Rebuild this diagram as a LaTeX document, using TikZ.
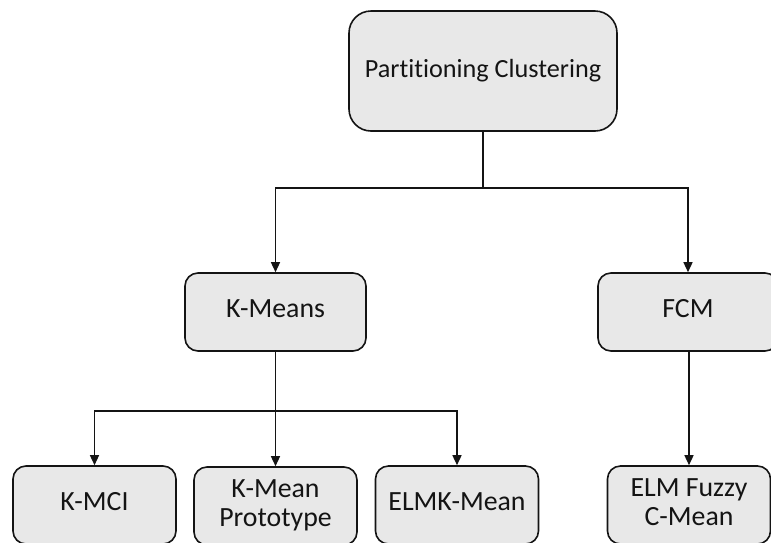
\documentclass[tikz,border=0pt]{standalone}
\usepackage{fontspec}
\setmainfont{Carlito}[Ligatures=NoCommon]
\usetikzlibrary{arrows.meta}
\definecolor{boxfill}{RGB}{232,232,232}
\definecolor{ink}{RGB}{20,20,20}
% box labels, one or two centred lines
\newcommand\lbl[1]{{\fontsize{27.8}{29}\selectfont\begin{tabular}{@{}c@{}}#1\end{tabular}}}
\begin{document}
\begin{tikzpicture}[x=1pt,y=-1pt,
  box/.style={draw=ink,line width=1.6pt,fill=boxfill,rounded corners=13pt,
    minimum width=163pt,minimum height=78pt,inner sep=0pt,text=ink,align=center},
  link/.style={draw=ink,line width=1.4pt},
  arr/.style={link,-{Triangle[length=10pt,width=9pt]}}]
\useasboundingbox (0,0) rectangle (771,542);
\clip (0,0) rectangle (771,542);
\fill[white] (0,0) rectangle (771,542);

% boxes
\node[box,minimum width=268pt,minimum height=120pt,rounded corners=22pt,
  font=\fontsize{26.2}{28}\selectfont] (top) at (483,71) {Partitioning Clustering};
\node[box,minimum width=181pt] (km) at (275.5,312) {\lbl{K-Means}};
\node[box,minimum width=180pt] (fcm) at (688,312) {\lbl{FCM}};
\node[box] (kmci) at (94.5,505) {\lbl{K-MCI}};
\node[box] (kmp) at (275.5,506) {\lbl{K-Mean\\Prototype}};
\node[box] (elmk) at (457,505) {\lbl{ELMK-Mean}};
\node[box] (elmf) at (689,505) {\lbl{ELM Fuzzy\\C-Mean}};

% junctions of the tree
\coordinate (j1) at (483,188);
\coordinate (j2) at (275.5,411);

% connectors
\draw[link] (top.south) -- (j1);
\draw[arr] (j1) -| (km.north);
\draw[arr] (j1) -| (fcm.north);
\draw[link] (km.south) -- (j2);
\draw[arr] (j2) -| (kmci.north);
\draw[arr] (j2) -- (kmp.north);
\draw[arr] (j2) -| (elmk.north);
\draw[arr] (fcm.south -| elmf.north) -- (elmf.north);
\end{tikzpicture}
\end{document}
